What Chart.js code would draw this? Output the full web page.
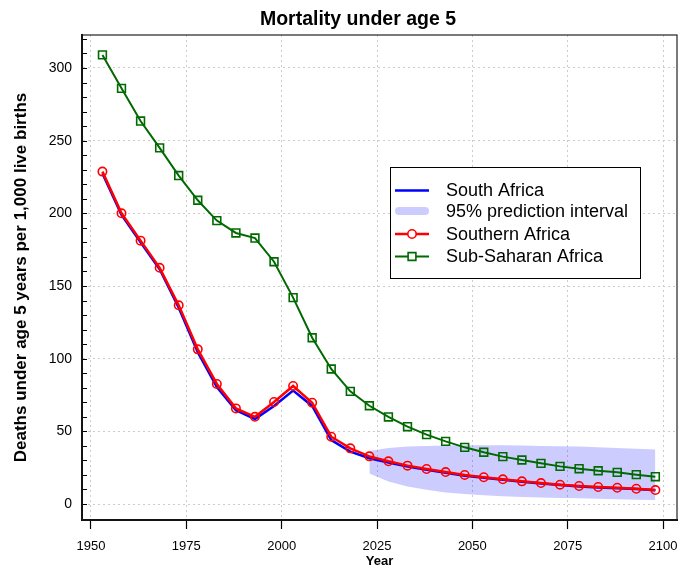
<!DOCTYPE html>
<html>
<head>
<meta charset="utf-8">
<script src="https://cdn.jsdelivr.net/npm/chart.js@4.4.1/dist/chart.umd.min.js"></script>
<style>
  html, body { margin: 0; padding: 0; background: #fff; }
  #wrap { width: 696px; height: 569px; position: relative; }
</style>
</head>
<body>
<div id="wrap"><canvas id="chart" width="696" height="569"></canvas></div>
<script>
// years are mid-points of the 5-year periods
const years = [1953, 1958, 1963, 1968, 1973, 1978, 1983, 1988, 1993, 1998,
  2003, 2008, 2013, 2018, 2023, 2028, 2033, 2038, 2043, 2048,
  2053, 2058, 2063, 2068, 2073, 2078, 2083, 2088, 2093, 2098];

const southAfrica = [227.5, 199, 180, 161.5, 135, 104.5, 80.5, 64.5, 58.5, 67.5,
  78, 67.5, 44, 36, 31.5, 28.5, 25.8, 23.5, 21.5, 19.5,
  18, 16.7, 15.3, 14.1, 13, 12.1, 11.4, 10.9, 10.3, 9.4];

const southernAfrica = [228.7, 200, 181.2, 162.5, 136.7, 106.4, 82.6, 65.8, 60, 70.2,
  81.2, 69.7, 46.3, 38.3, 32.8, 29.4, 26.4, 24.1, 22, 20,
  18.4, 17, 15.6, 14.4, 13.3, 12.4, 11.7, 11.2, 10.5, 9.6];

const subSaharanAfrica = [309, 286, 263.5, 245, 226, 209, 195, 186.5, 183, 166.7,
  142, 114.4, 92.9, 77.5, 67.6, 59.9, 53.2, 47.7, 43.1, 39,
  35.6, 32.6, 30.3, 28, 25.9, 24.3, 22.9, 21.8, 20.2, 18.8];

// 95% prediction interval for South Africa (projection years only)
const bandYears = [2023, 2028, 2033, 2038, 2043, 2048, 2053, 2058, 2063, 2068, 2073, 2078, 2083, 2088, 2093, 2098];
const bandUpper = [36.5, 38.5, 39.5, 40, 40.3, 40.5, 40.5, 40.5, 40.3, 40, 39.8, 39.5, 39, 38.5, 38, 37.5];
const bandLower = [21, 15.5, 12, 9.8, 8, 6.9, 6, 5.3, 4.9, 4.5, 4.2, 3.9, 3.6, 3.3, 3, 2.8];

const xTicks = [1950, 1975, 2000, 2025, 2050, 2075, 2100];
const yTicks = [];
for (let v = 0; v <= 320; v += 10) yTicks.push(v); // minor ticks every 10, labels every 50

const GREEN = 'rgb(0,105,0)';
const BAND = 'rgba(0,0,255,0.2)';

function pts(xs, ys) {
  return xs.map((x, i) => ({ x: x, y: ys[i] }));
}

Chart.defaults.font.family = "'Liberation Sans', Arial, sans-serif";
Chart.defaults.color = '#000';

// title, frame, inside y tick marks and the legend box
const extras = {
  id: 'extras',
  afterDraw(chart) {
    const { ctx, chartArea: a } = chart;
    const y = chart.scales.y;
    ctx.save();

    ctx.strokeStyle = '#000';
    ctx.lineWidth = 1;
    y.ticks.forEach(t => {
      const py = Math.round(y.getPixelForValue(t.value)) + 0.5;
      ctx.beginPath();
      ctx.moveTo(a.left, py);
      ctx.lineTo(a.left + 5, py);
      ctx.stroke();
    });

    ctx.strokeStyle = '#222';
    ctx.lineWidth = 1.2;
    ctx.strokeRect(a.left, a.top, a.right - a.left, a.bottom - a.top);

    ctx.fillStyle = '#000';
    ctx.font = "bold 19.5px 'Liberation Sans', Arial, sans-serif";
    ctx.textAlign = 'center';
    ctx.textBaseline = 'middle';
    ctx.fillText('Mortality under age 5', 358, 20);

    // legend
    const lx = 390, ly = 167, lw = 250, lh = 111;
    ctx.fillStyle = '#fff';
    ctx.fillRect(lx, ly, lw, lh);
    ctx.strokeStyle = '#000';
    ctx.lineWidth = 1;
    ctx.strokeRect(lx + 0.5, ly + 0.5, lw, lh);

    const items = [
      { text: 'South Africa', ds: chart.data.datasets[2], y: 190.5 },
      { text: '95% prediction interval', band: true, y: 211 },
      { text: 'Southern Africa', ds: chart.data.datasets[1], y: 234 },
      { text: 'Sub-Saharan Africa', ds: chart.data.datasets[0], y: 256.5 }
    ];
    ctx.font = "18px 'Liberation Sans', Arial, sans-serif";
    ctx.textAlign = 'left';
    items.forEach(it => {
      ctx.beginPath();
      if (it.band) {
        ctx.strokeStyle = BAND;
        ctx.lineWidth = 8;
        ctx.lineCap = 'round';
        ctx.moveTo(399, it.y);
        ctx.lineTo(425, it.y);
        ctx.stroke();
      } else {
        ctx.strokeStyle = it.ds.borderColor;
        ctx.lineWidth = it.ds.borderWidth;
        ctx.lineCap = 'butt';
        ctx.moveTo(395, it.y);
        ctx.lineTo(429, it.y);
        ctx.stroke();
        if (it.ds.pointRadius > 0) {
          ctx.lineWidth = it.ds.pointBorderWidth;
          ctx.strokeStyle = it.ds.borderColor;
          ctx.fillStyle = '#fff';
          Chart.helpers.drawPoint(ctx, {
            pointStyle: it.ds.pointStyle,
            radius: it.ds.pointRadius,
            borderWidth: it.ds.pointBorderWidth,
            rotation: 0
          }, 412, it.y);
        }
      }
      ctx.fillStyle = '#000';
      ctx.fillText(it.text, 446, it.y + 1);
    });
    ctx.restore();
  }
};

new Chart(document.getElementById('chart'), {
  type: 'line',
  data: {
    datasets: [
      {
        label: 'Sub-Saharan Africa',
        data: pts(years, subSaharanAfrica),
        borderColor: GREEN,
        borderWidth: 2,
        pointStyle: 'rect',
        pointRadius: 5.5,
        pointBorderWidth: 1.6,
        pointBackgroundColor: 'rgba(0,0,0,0)',
        pointBorderColor: GREEN,
        fill: false,
        order: 0
      },
      {
        label: 'Southern Africa',
        data: pts(years, southernAfrica),
        borderColor: '#ff0000',
        borderWidth: 2.5,
        pointStyle: 'circle',
        pointRadius: 4.2,
        pointBorderWidth: 1.6,
        pointBackgroundColor: 'rgba(0,0,0,0)',
        pointBorderColor: '#ff0000',
        fill: false,
        order: 1
      },
      {
        label: 'South Africa',
        data: pts(years, southAfrica),
        borderColor: '#0000ff',
        borderWidth: 2.5,
        pointRadius: 0,
        fill: false,
        order: 2
      },
      {
        label: '95% upper',
        data: pts(bandYears, bandUpper),
        borderWidth: 0,
        borderColor: 'rgba(0,0,0,0)',
        backgroundColor: BAND,
        pointRadius: 0,
        fill: '+1',
        order: 3
      },
      {
        label: '95% lower',
        data: pts(bandYears, bandLower),
        borderWidth: 0,
        borderColor: 'rgba(0,0,0,0)',
        pointRadius: 0,
        fill: false,
        order: 4
      }
    ]
  },
  options: {
    responsive: false,
    animation: false,
    layout: { padding: { top: 35, right: 19, left: 0, bottom: 0 } },
    plugins: {
      legend: { display: false },
      title: { display: false },
      tooltip: { enabled: false }
    },
    scales: {
      x: {
        type: 'linear',
        min: 1947.64,
        max: 2103.67,
        afterBuildTicks: s => { s.ticks = xTicks.map(v => ({ value: v })); },
        afterFit: s => { s.height = 49; },
        grid: {
          color: '#cccccc',
          lineWidth: 1,
          tickLength: 9,
          tickColor: '#000',
          tickWidth: 1.2,
          tickBorderDash: []
        },
        border: { display: true, color: '#000', width: 2, dash: [2, 3] },
        ticks: { padding: 10, font: { size: 13 }, maxRotation: 0, callback: v => String(v) },
        title: {
          display: true,
          text: 'Year',
          font: { size: 13, weight: 'bold' },
          padding: { top: 0, bottom: 0 }
        }
      },
      y: {
        type: 'linear',
        min: -11,
        max: 322.7,
        afterBuildTicks: s => { s.ticks = yTicks.map(v => ({ value: v })); },
        afterFit: s => { s.width = 82; },
        grid: {
          color: c => (c.tick && c.tick.value % 50 === 0) ? '#cccccc' : 'rgba(0,0,0,0)',
          lineWidth: 1,
          drawTicks: false
        },
        border: { display: true, color: '#000', width: 2, dash: [2, 3] },
        ticks: {
          padding: 10,
          autoSkip: false,
          font: { size: 14 },
          callback: v => (v % 50 === 0 ? String(v) : '')
        },
        title: {
          display: true,
          text: 'Deaths under age 5 years per 1,000 live births',
          font: { size: 17, weight: 'bold' },
          padding: { top: 11, bottom: 0 }
        }
      }
    }
  },
  plugins: [extras]
});
</script>
</body>
</html>
